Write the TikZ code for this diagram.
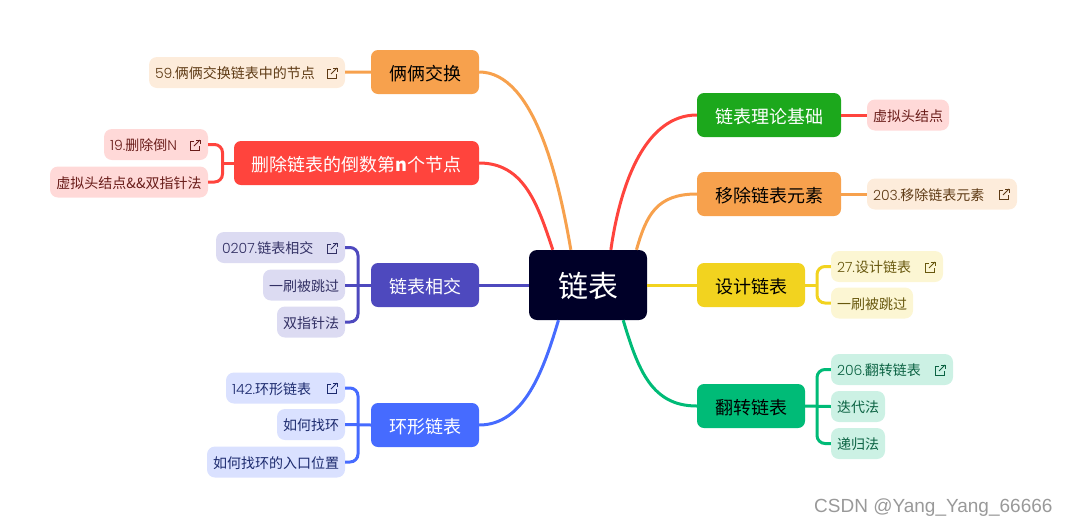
\documentclass[tikz,border=0pt]{standalone}
\usepackage{fontspec}
\setmainfont{Noto Sans CJK SC}
\newfontfamily\markfont{Liberation Sans}
\newfontfamily\digitfont{Poppins}[UprightFont=* Light]
\usetikzlibrary{arrows.meta,positioning,calc}
\definecolor{rootbg}{RGB}{0,0,40}
\definecolor{redline}{RGB}{255,68,61}
\definecolor{redsoft}{RGB}{255,217,216}
\definecolor{redink}{RGB}{105,28,25}
\definecolor{orangeline}{RGB}{247,161,77}
\definecolor{orangesoft}{RGB}{253,236,219}
\definecolor{orangeink}{RGB}{94,58,20}
\definecolor{leafgreen}{RGB}{28,168,28}
\definecolor{yellowline}{RGB}{242,211,31}
\definecolor{yellowsoft}{RGB}{252,246,211}
\definecolor{yellowink}{RGB}{104,88,14}
\definecolor{greenline}{RGB}{0,187,119}
\definecolor{greensoft}{RGB}{204,241,228}
\definecolor{greenink}{RGB}{10,98,66}
\definecolor{indigoline}{RGB}{78,73,190}
\definecolor{indigosoft}{RGB}{220,219,242}
\definecolor{indigoink}{RGB}{50,48,100}
\definecolor{blueline}{RGB}{70,107,255}
\definecolor{bluesoft}{RGB}{218,225,255}
\definecolor{blueink}{RGB}{28,42,110}

\begin{document}
\begin{tikzpicture}[
    x=1pt, y=-1pt,
    rootnode/.style={fill=rootbg, text=white, rounded corners=8pt, inner sep=0pt,
                minimum width=118pt, minimum height=70pt, text height=24.8pt, text depth=0pt,
                font=\fontsize{30}{34}\selectfont},
    branch/.style={rounded corners=7pt, inner sep=0pt, minimum height=44pt,
                text height=16pt, text depth=0pt, font=\fontsize{18}{22}\selectfont},
    leaf/.style={rounded corners=8pt, inner sep=0pt, minimum height=31pt,
                text height=12.6pt, text depth=0pt, font=\fontsize{14}{17}\selectfont},
    leaflink/.style={leaf, inner xsep=6pt, text width=#1, align=left},
    conn/.style={line width=3pt},
    linkicon/.pic={
        \draw[line width=0.8pt] (-1,-4) -| (-5,5) -| (4,1);
        \draw[line width=0.8pt] (-1,1) -- (5,-5);
        \draw[line width=0.8pt] (1,-5) -- (5,-5) -- (5,-1);
    }
]
\useasboundingbox (0,0) rectangle (1067,528);

\coordinate (delfork) at (222.5,163);
\coordinate (crossfork) at (358,285);
\coordinate (ringfork) at (358,425);
\coordinate (designfork) at (817,285);
\coordinate (flipfork) at (817,406);

\node[rootnode] (root) at (588,285) {链表};

% left side
\node[branch, fill=orangeline, text=black, minimum width=108pt] (swap) at (425,72) {俩俩交换};
\node[branch, fill=redline, text=white, minimum width=245pt] (del) at (356.5,163) {删除链表的倒数第{\bfseries n}个节点};
\node[branch, fill=indigoline, text=white, minimum width=108pt] (cross) at (425,285) {链表相交};
\node[branch, fill=blueline, text=white, minimum width=108pt] (ring) at (425,425) {环形链表};

\node[leaflink=184pt, fill=orangesoft, text=orangeink] (swapone) at (247,72.5) {{\digitfont 59.}俩俩交换链表中的节点};
\node[leaflink=92pt, fill=redsoft, text=redink] (delone) at (156,144.5) {{\digitfont 19.}删除倒{\digitfont N}};
\node[leaf, fill=redsoft, text=redink, minimum width=158pt] (deltwo) at (129,182) {虚拟头结点\&\&双指针法};
\node[leaflink=117pt, fill=indigosoft, text=indigoink] (crossone) at (280.5,247.5) {{\digitfont 0207.}链表相交};
\node[leaf, fill=indigosoft, text=indigoink, minimum width=82pt] (crosstwo) at (304,285) {一刷被跳过};
\node[leaf, fill=indigosoft, text=indigoink, minimum width=68pt] (crossthree) at (311,322) {双指针法};
\node[leaflink=107pt, fill=bluesoft, text=blueink] (ringone) at (285.5,388) {{\digitfont 142.}环形链表};
\node[leaf, fill=bluesoft, text=blueink, minimum width=68pt] (ringtwo) at (311,424.5) {如何找环};
\node[leaf, fill=bluesoft, text=blueink, minimum width=138pt] (ringthree) at (276,462) {如何找环的入口位置};

% right side
\node[branch, fill=leafgreen, text=white, minimum width=144pt] (basic) at (769,115) {链表理论基础};
\node[branch, fill=orangeline, text=black, minimum width=144pt] (remove) at (769,194) {移除链表元素};
\node[branch, fill=yellowline, text=black, minimum width=108pt] (design) at (751,285) {设计链表};
\node[branch, fill=greenline, text=black, minimum width=108pt] (flip) at (751,406) {翻转链表};

\node[leaf, fill=redsoft, text=redink, minimum width=82pt] (basicone) at (908,115) {虚拟头结点};
\node[leaflink=138pt, fill=orangesoft, text=orangeink] (removeone) at (942,194) {{\digitfont 203.}移除链表元素};
\node[leaflink=100pt, fill=yellowsoft, text=yellowink] (designone) at (887,266.5) {{\digitfont 27.}设计链表};
\node[leaf, fill=yellowsoft, text=yellowink, minimum width=82pt] (designtwo) at (872,303) {一刷被跳过};
\node[leaflink=110pt, fill=greensoft, text=greenink] (flipone) at (892,369.5) {{\digitfont 206.}翻转链表};
\node[leaf, fill=greensoft, text=greenink, minimum width=54pt] (fliptwo) at (858,406.5) {迭代法};
\node[leaf, fill=greensoft, text=greenink, minimum width=54pt] (flipthree) at (858,443.5) {递归法};

% root to branch
\draw[conn, orangeline] (swap.east) .. controls +(55,0) and +(-12,-70) .. (root.116);
\draw[conn, redline] (del.east) .. controls +(45,0) and +(-15,-45) .. (root.135);
\draw[conn, indigoline] (cross) -- (root);
\draw[conn, blueline] (ring.east) .. controls +(45,0) and +(-15,50) .. (root.230);
\draw[conn, redline] (basic.west) .. controls +(-50,0) and +(10,-70) .. (root.57);
\draw[conn, orangeline] (remove.west) .. controls +(-40,0) and +(10,-35) .. (root.36);
\draw[conn, yellowline] (root) -- (design);
\draw[conn, greenline] (flip.west) .. controls +(-45,0) and +(15,50) .. (root.315);

% branch to leaf
\draw[conn, orangeline] (swap) -- (swapone);
\draw[conn, redline] (del.west) -- (delfork);
\draw[conn, redline, rounded corners=8pt] (delone.east) -| (delfork) |- (deltwo.east);
\draw[conn, indigoline] (cross.west) -- (crosstwo.east);
\draw[conn, indigoline, rounded corners=8pt] (crossone.east) -| (crossfork) |- (crossthree.east);
\draw[conn, blueline] (ring.west) -- (ringtwo.east);
\draw[conn, blueline, rounded corners=8pt] (ringone.east) -| (ringfork) |- (ringthree.east);
\draw[conn, redline] (basic) -- (basicone);
\draw[conn, orangeline] (remove) -- (removeone);
\draw[conn, yellowline] (design.east) -- (designfork);
\draw[conn, yellowline, rounded corners=8pt] (designone.west) -| (designfork) |- (designtwo.west);
\draw[conn, greenline] (flip.east) -- (fliptwo.west);
\draw[conn, greenline, rounded corners=8pt] (flipone.west) -| (flipfork) |- (flipthree.west);

% external link marks
\pic[orangeink] at (332,73) {linkicon};
\pic[redink] at (195,145) {linkicon};
\pic[indigoink] at (332,248) {linkicon};
\pic[blueink] at (332,388) {linkicon};
\pic[orangeink] at (1004,194) {linkicon};
\pic[yellowink] at (930,267) {linkicon};
\pic[greenink] at (940,370) {linkicon};

\node[text=black!40, font=\markfont\fontsize{19}{22}\selectfont, anchor=east] (watermark) at (1056,508) {CSDN @Yang\_Yang\_66666};
\end{tikzpicture}
\end{document}
